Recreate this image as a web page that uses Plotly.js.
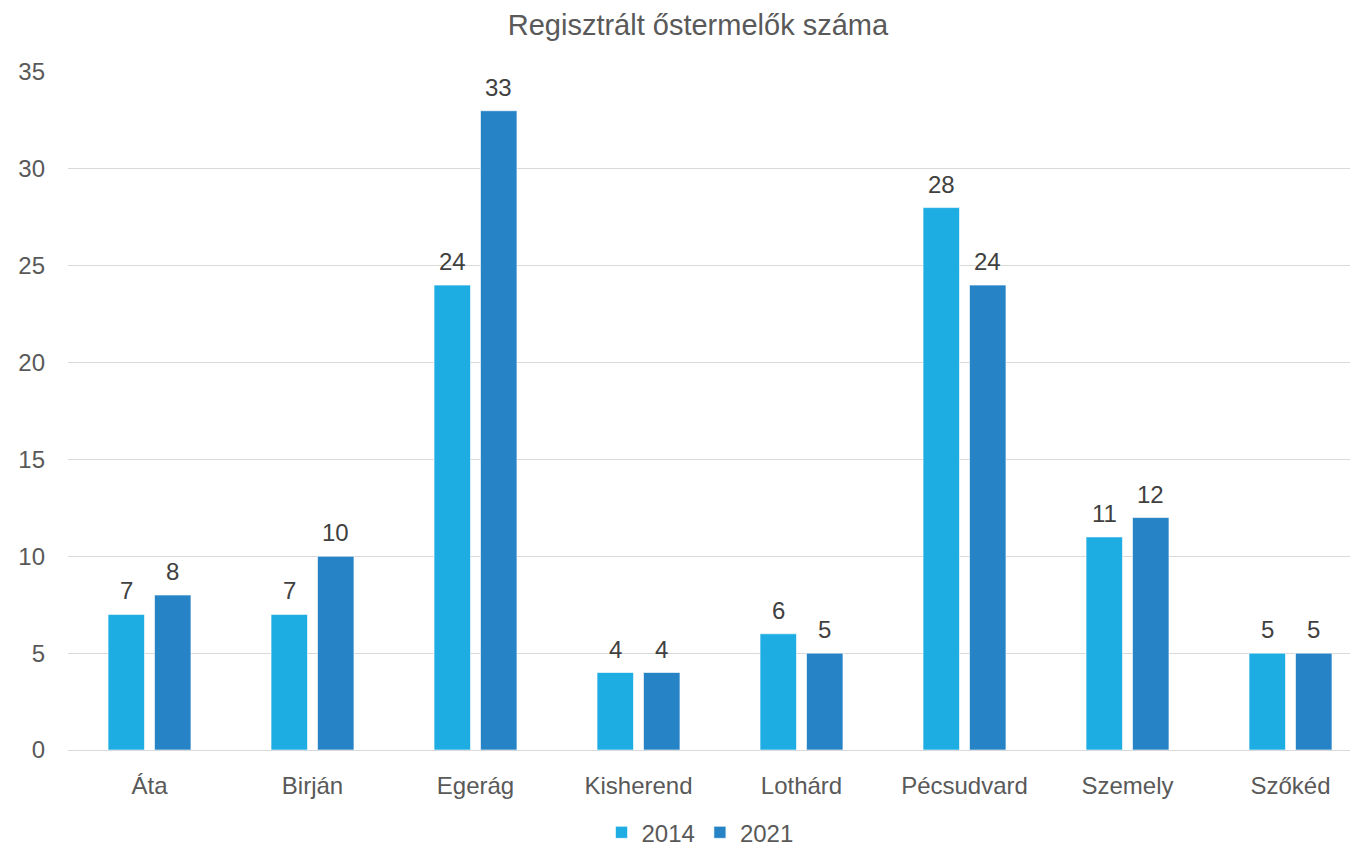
<!DOCTYPE html>
<html>
<head>
<meta charset="utf-8">
<script src="https://cdn.plot.ly/plotly-3.0.1.min.js"></script>
<style>html,body{margin:0;padding:0;background:#fff;}#chart{width:1350px;height:848px;}</style>
</head>
<body>
<div id="chart"></div>
<script>
const categories = ["Áta", "Birján", "Egerág", "Kisherend", "Lothárd", "Pécsudvard", "Szemely", "Szőkéd"];
const values2014 = [7, 7, 24, 4, 6, 28, 11, 5];
const values2021 = [8, 10, 33, 4, 5, 24, 12, 5];
const seriesNames = ["2014", "2021"];
const yTicks = [0, 5, 10, 15, 20, 25, 30, 35];

const FONT = "Liberation Sans, Arial, sans-serif";
const mk = (name, vals, color) => ({
  type: "bar",
  name: name,
  x: categories,
  y: vals,
  marker: {color: color, line: {color: "rgba(255,255,255,0.6)", width: 1}},
  hoverinfo: "x+y+name"
});

const data = [
  mk(seriesNames[0], values2014, "#1EADE3"),
  mk(seriesNames[1], values2021, "#2683C6")
];

// value labels above bars
const annotations = [];
[values2014, values2021].forEach((vals, si) => {
  vals.forEach((v, i) => {
    annotations.push({
      x: categories[i], y: v, xref: "x", yref: "y",
      text: String(v), showarrow: false,
      xanchor: "center", yanchor: "bottom",
      xshift: si === 0 ? -23.3 : 23.3, yshift: 8,
      font: {family: FONT, size: 24, color: "#404040"}
    });
  });
});

const layout = {
  width: 1350,
  height: 848,
  margin: {l: 68, r: 0, t: 72, b: 98, autoexpand: false},
  paper_bgcolor: "#fff",
  plot_bgcolor: "#fff",
  font: {family: FONT, color: "#595959", size: 24},
  title: {
    text: "Regisztrált őstermelők száma",
    font: {family: FONT, size: 29, color: "#595959"},
    xref: "container", x: 0.517, xanchor: "center",
    yref: "container", y: 0.971, yanchor: "middle"
  },
  barmode: "group",
  bargap: 0.43,
  bargroupgap: 0.215,
  annotations: annotations,
  xaxis: {
    type: "category",
    range: [-0.5, 7.365],
    showgrid: false,
    zeroline: false,
    showline: false,
    ticks: "",
    ticklabelstandoff: 19,
    tickfont: {family: FONT, size: 24, color: "#595959"}
  },
  yaxis: {
    range: [0, 35],
    tickvals: yTicks,
    ticktext: yTicks.map(String),
    showgrid: true,
    gridcolor: "#d9d9d9",
    gridwidth: 1,
    zeroline: true,
    zerolinecolor: "#d9d9d9",
    zerolinewidth: 1,
    showline: false,
    ticks: "",
    ticklabelstandoff: 22,
    tickfont: {family: FONT, size: 24, color: "#595959"}
  },
  showlegend: true,
  legend: {
    orientation: "h",
    x: 0.493, xanchor: "center",
    y: -0.122, yanchor: "middle",
    font: {family: FONT, size: 24, color: "#595959"},
    itemwidth: 30,
    traceorder: "normal"
  }
};

Plotly.newPlot("chart", data, layout, {displayModeBar: false, staticPlot: true});
</script>
</body>
</html>
